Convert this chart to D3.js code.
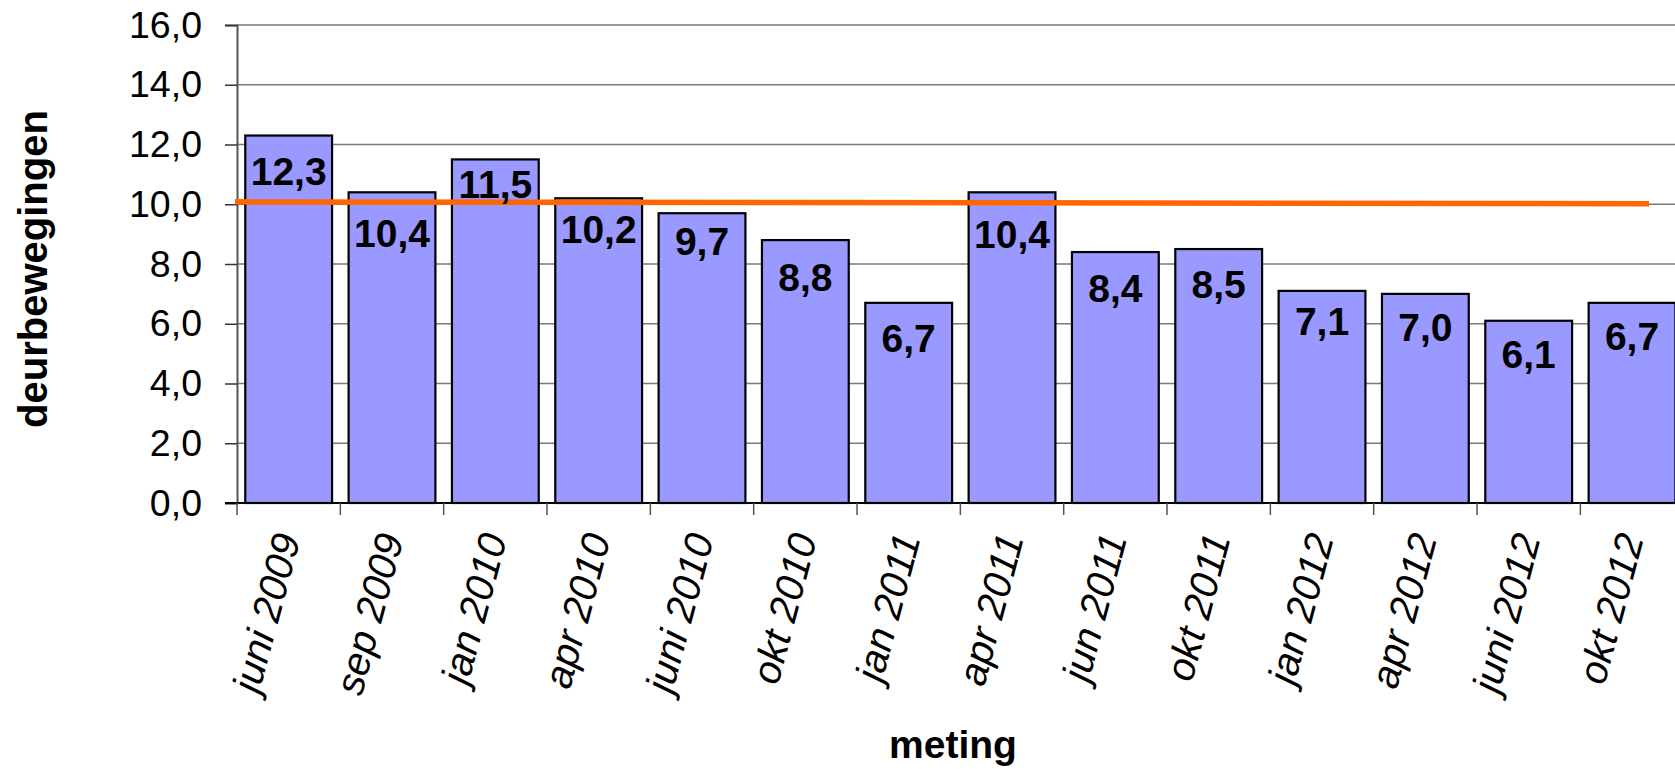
<!DOCTYPE html>
<html>
<head>
<meta charset="utf-8">
<script src="https://cdn.jsdelivr.net/npm/d3@7"></script>
<style>
  html, body { margin: 0; padding: 0; background: #fff; overflow: hidden; }
  svg { display: block; font-family: "Liberation Sans", Arial, sans-serif; }
</style>
</head>
<body>
<svg id="chart" width="1675" height="769"></svg>
<script>
// Meetmomenten (categorieën)
const metingen = ["juni 2009", "sep 2009", "jan 2010", "apr 2010", "juni 2010", "okt 2010",
  "jan 2011", "apr 2011", "jun 2011", "okt 2011", "jan 2012", "apr 2012", "juni 2012", "okt 2012"];
// Gemiddeld aantal deurbewegingen per meting
const deurbewegingen = [12.3, 10.4, 11.5, 10.2, 9.7, 8.8, 6.7, 10.4, 8.4, 8.5, 7.1, 7.0, 6.1, 6.7];
// Referentielijn: waarde aan begin en eind
const referentie = [10.08, 10.02];
// Ticks op de waarde-as
const yTicks = [0, 2, 4, 6, 8, 10, 12, 14, 16];
// Afstand (px) van de bovenkant van de staaf tot de basislijn van het label
const labelDrop = [49, 55, 39, 45, 42, 51, 49, 56, 50, 49, 44, 47, 47, 47];

const fmt = v => v.toFixed(1).replace(".", ",");

const svg = d3.select("#chart");
const plotLeft = 237, plotRight = 1683.7, plotTop = 25, plotBottom = 503;

const x = d3.scaleBand()
  .domain(metingen)
  .range([plotLeft, plotRight])
  .paddingInner(0.16)
  .paddingOuter(0.08);

const y = d3.scaleLinear().domain([0, 16]).range([plotBottom, plotTop]);

// Horizontale rasterlijnen
svg.append("g")
  .selectAll("line")
  .data(yTicks.filter(t => t > 0))
  .join("line")
  .attr("x1", plotLeft).attr("x2", 1675)
  .attr("y1", d => y(d)).attr("y2", d => y(d))
  .attr("stroke", "#7a7a7a").attr("stroke-width", 1.6);

// Waarde-as
const yAxis = svg.append("g")
  .attr("transform", `translate(${plotLeft},0)`)
  .call(d3.axisLeft(y).tickValues(yTicks).tickSize(12).tickPadding(23).tickFormat(fmt));
yAxis.select(".domain").attr("stroke", "#555").attr("stroke-width", 2);
yAxis.selectAll(".tick line").attr("stroke", "#333").attr("stroke-width", 1.5);
yAxis.selectAll(".tick text")
  .attr("font-size", 37.5)
  .attr("fill", "#000")
  .attr("font-family", "Liberation Sans, Arial, sans-serif");

// Staven
svg.append("g")
  .selectAll("rect")
  .data(deurbewegingen)
  .join("rect")
  .attr("x", (d, i) => x(metingen[i]))
  .attr("y", d => y(d))
  .attr("width", x.bandwidth())
  .attr("height", d => y(0) - y(d))
  .attr("fill", "#9999FF")
  .attr("stroke", "#000")
  .attr("stroke-width", 2.2);

// Categorie-as met ticks op de grenzen tussen de categorieën
const step = x.step();
const boundaries = d3.range(metingen.length + 1).map(i => plotLeft + i * step);
svg.append("line")
  .attr("x1", plotLeft - 12).attr("x2", 1675)
  .attr("y1", plotBottom).attr("y2", plotBottom)
  .attr("stroke", "#000").attr("stroke-width", 2);
svg.append("g")
  .selectAll("line")
  .data(boundaries)
  .join("line")
  .attr("x1", d => d).attr("x2", d => d)
  .attr("y1", plotBottom).attr("y2", plotBottom + 12)
  .attr("stroke", "#555").attr("stroke-width", 1.5);

// Categorielabels, schuin
svg.append("g")
  .selectAll("text")
  .data(metingen)
  .join("text")
  .attr("transform", d => `translate(${x(d) + x.bandwidth() / 2 + 12},${538}) rotate(-75)`)
  .attr("text-anchor", "end")
  .attr("font-size", 40)
  .attr("font-style", "italic")
  .attr("fill", "#000")
  .text(d => d);

// Referentielijn
const refX = d3.scaleLinear().domain([0, 1]).range([plotLeft - 2, 1649]);
svg.append("line")
  .attr("x1", refX(0)).attr("x2", refX(1))
  .attr("y1", y(referentie[0])).attr("y2", y(referentie[1]))
  .attr("stroke", "#FF6600").attr("stroke-width", 5.5);

// Waardelabels in de staven
svg.append("g")
  .selectAll("text")
  .data(deurbewegingen)
  .join("text")
  .attr("x", (d, i) => x(metingen[i]) + x.bandwidth() / 2)
  .attr("y", (d, i) => y(d) + labelDrop[i])
  .attr("text-anchor", "middle")
  .attr("font-size", 39)
  .attr("font-weight", "bold")
  .attr("fill", "#000")
  .text(d => fmt(d));

// Astitels
svg.append("text")
  .attr("transform", "translate(47,269) rotate(-90)")
  .attr("text-anchor", "middle")
  .attr("font-size", 40)
  .attr("font-weight", "bold")
  .text("deurbewegingen");

svg.append("text")
  .attr("x", 953).attr("y", 758)
  .attr("text-anchor", "middle")
  .attr("font-size", 39)
  .attr("font-weight", "bold")
  .text("meting");
</script>
</body>
</html>
